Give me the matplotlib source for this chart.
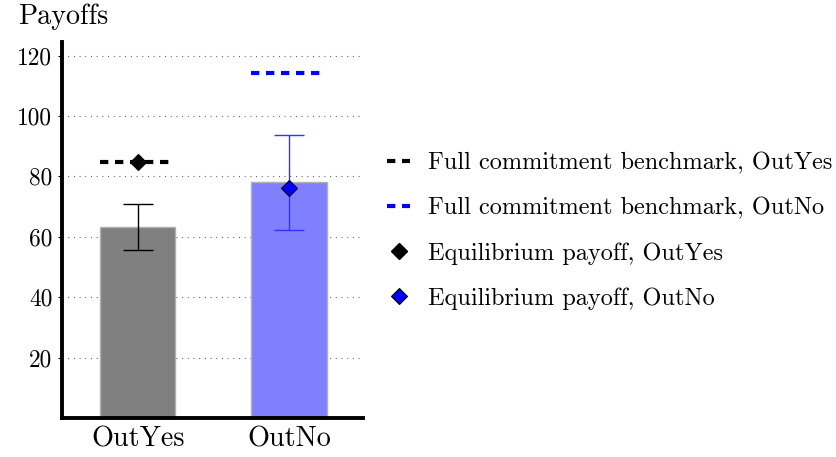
import matplotlib
matplotlib.use("Agg")
import matplotlib.pyplot as plt
from matplotlib.lines import Line2D

plt.rcParams['font.family'] = ['cmr10', 'DejaVu Serif']
plt.rcParams['axes.formatter.use_mathtext'] = True
plt.rcParams['mathtext.fontset'] = 'cm'
plt.rcParams['lines.scale_dashes'] = False

categories = ["OutYes", "OutNo"]
bar_values = [63.4, 78.2]
err_low = [55.7, 62.4]
err_high = [70.8, 93.7]
benchmark = [84.8, 114.3]
equilibrium = [84.8, 76.1]
yticks = [20, 40, 60, 80, 100, 120]

bar_colors = ["#808080", "#8080ff"]
line_colors = ["black", "#0000ff"]
err_colors = ["black", "#3030ff"]
marker_faces = ["black", "#0000ff"]

W, H = 837, 457
fig = plt.figure(figsize=(W / 100, H / 100), dpi=100)
ax = fig.add_axes([62 / W, 1 - 418 / H, (363 - 62) / W, (418 - 42) / H])

x = list(range(len(categories)))
dash = (0, (6.0, 4.8))
bw = 0.5
for i in x:
    ax.bar(i, bar_values[i], width=bw, color=bar_colors[i], edgecolor="#b0b0b0",
           linewidth=1.0, zorder=2)
    ax.errorbar(i, bar_values[i],
                yerr=[[bar_values[i] - err_low[i]], [err_high[i] - bar_values[i]]],
                fmt="none", ecolor=err_colors[i], elinewidth=1.0, capsize=10.8,
                capthick=1.0, zorder=3)
    ax.plot([i - bw / 2, i + bw / 2 - 0.03], [benchmark[i]] * 2, color=line_colors[i],
            linewidth=3, linestyle=dash, solid_capstyle="butt", dash_capstyle="butt", zorder=3)
    ax.plot(i, equilibrium[i], marker="D", markersize=8.5, markerfacecolor=marker_faces[i],
            markeredgecolor="black", markeredgewidth=0.8, linestyle="none", zorder=4)

ax.set_xlim(-0.5, 1.49)
ax.set_ylim(0, 124.5)
ax.set_xticks(x)
ax.set_xticklabels(categories, fontsize=20.3)
ax.set_yticks(yticks)
ax.set_yticklabels([str(v) for v in yticks], fontsize=16.8)
ax.tick_params(axis="x", length=0, pad=6)
ax.tick_params(axis="y", length=3, width=0.8, pad=4)
for s in ("top", "right"):
    ax.spines[s].set_visible(False)
for s in ("left", "bottom"):
    ax.spines[s].set_linewidth(2.8)
ax.yaxis.grid(True, linestyle=(0, (0.7, 3.4)), color="#555555", linewidth=0.8, zorder=0)
ax.set_axisbelow(True)

fig.text(18 / W, 1 - 17 / H, "Payoffs", fontsize=20.2, ha="left", va="center")

handles = [
    Line2D([], [], color="black", linewidth=3, linestyle=dash, dash_capstyle="butt"),
    Line2D([], [], color="#0000ff", linewidth=3, linestyle=dash, dash_capstyle="butt"),
    Line2D([], [], color="black", marker="D", markersize=8.5, markerfacecolor="black",
           markeredgecolor="black", linestyle="none"),
    Line2D([], [], color="black", marker="D", markersize=8.5, markerfacecolor="#0000ff",
           markeredgecolor="black", markeredgewidth=0.8, linestyle="none"),
]
labels = ["Full commitment benchmark, OutYes", "Full commitment benchmark, OutNo",
          "Equilibrium payoff, OutYes", "Equilibrium payoff, OutNo"]
fig.legend(handles, labels, loc="center left", bbox_to_anchor=(387 / W, 1 - 231 / H),
           frameon=False, fontsize=17.5, handlelength=0.95, handletextpad=0.75,
           labelspacing=0.93, borderpad=0, borderaxespad=0)

fig.savefig("out.png", dpi=100)
